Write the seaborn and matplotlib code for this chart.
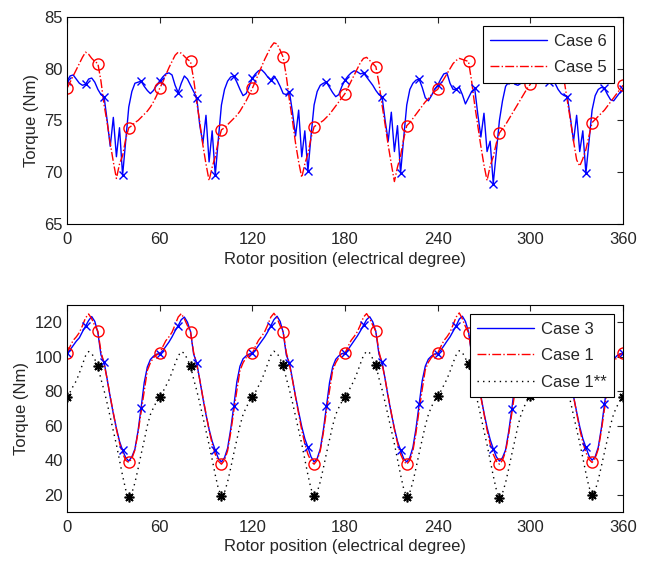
import numpy as np
import matplotlib
matplotlib.use("Agg")
import matplotlib.pyplot as plt
import seaborn as sns

# rotor position grid, 2 degree steps
angle = np.arange(0, 362, 2)

# top plot: Case 6 / Case 5 torque (Nm)
case6 = [
    78.8, 79.3, 79.4, 79.0, 78.6, 78.4, 78.5, 79.0, 79.1, 78.7, 78.0, 77.5, 77.3, 75.0, 72.5,
    75.3, 71.5, 74.3, 69.7, 73.0, 76.3, 77.8, 78.6, 78.7, 78.8, 78.3, 77.9, 77.6, 77.9, 78.4,
    78.8, 79.2, 79.5, 79.6, 79.4, 78.4, 77.7, 78.6, 79.3, 79.0, 78.4, 77.8, 77.2, 74.5, 72.8,
    75.5, 71.0, 74.0, 69.7, 73.2, 76.5, 78.0, 78.8, 79.2, 79.3, 78.7, 78.0, 77.4, 77.6, 78.3,
    79.1, 79.5, 79.8, 79.9, 79.6, 79.2, 78.9, 79.3, 78.9, 78.3, 77.6, 77.5, 77.8, 75.8, 73.5,
    76.0, 71.5, 74.0, 70.1, 73.5, 76.5, 77.8, 78.4, 78.6, 78.7, 78.2, 77.7, 77.3, 77.5, 78.3,
    78.9, 79.3, 79.6, 79.8, 79.7, 79.5, 79.6, 79.2, 78.8, 78.4, 77.9, 77.5, 77.3, 75.0, 73.0,
    75.8, 72.0, 74.5, 69.9, 73.3, 76.5, 78.0, 78.6, 78.9, 79.0, 78.2, 77.2, 76.9, 77.4, 78.0,
    78.4, 79.0, 79.5, 79.6, 78.6, 78.0, 78.0, 78.2, 77.5, 76.6, 77.2, 77.8, 78.1, 75.6, 73.4,
    75.7, 72.0, 73.0, 68.9, 72.0, 75.0, 76.9, 78.3, 78.7, 78.9, 78.5, 78.4, 78.6, 78.9, 79.0,
    79.1, 79.4, 79.6, 79.5, 79.2, 78.8, 78.7, 78.9, 78.6, 78.0, 77.6, 77.4, 77.3, 75.2, 73.0,
    75.5, 72.0, 74.0, 69.9, 73.0, 76.0, 77.4, 78.0, 78.2, 78.1, 77.5, 77.0, 76.9, 77.3, 77.7,
    78.0,
]
case5 = [
    78.1, 78.7, 79.3, 79.9, 80.5, 81.1, 81.6, 81.4, 81.0, 80.7, 80.5, 78.8, 76.5, 74.8, 72.8,
    71.0, 69.4, 70.8, 71.6, 73.2, 74.3, 74.5, 74.8, 75.0, 75.3, 75.6, 75.9, 76.3, 76.8, 77.4,
    78.1, 78.7, 79.4, 80.1, 80.7, 81.3, 81.6, 81.5, 81.2, 80.9, 80.7, 79.0, 76.8, 74.8, 72.6,
    70.8, 69.2, 70.5, 71.5, 73.0, 74.1, 74.3, 74.6, 74.9, 75.2, 75.5, 75.9, 76.4, 76.9, 77.5,
    78.1, 78.8, 79.5, 80.2, 80.9, 81.5, 82.1, 82.5, 82.4, 81.8, 81.1, 79.3, 77.0, 75.0, 72.8,
    71.0, 69.5, 70.8, 71.8, 73.3, 74.4, 74.6, 74.8, 75.0, 75.3, 75.6, 76.0, 76.4, 76.8, 77.2,
    77.6, 78.2, 78.8, 79.4, 80.0, 80.6, 81.0, 81.1, 80.8, 80.5, 80.2, 78.6, 76.5, 74.6, 72.6,
    70.8, 69.1, 70.5, 71.6, 73.2, 74.5, 74.8, 75.2, 75.6, 76.0, 76.4, 76.8, 77.1, 77.5, 77.8,
    78.0, 78.5, 79.0, 79.5, 80.0, 80.5, 80.8, 81.0, 80.9, 80.8, 80.7, 78.8, 76.5, 74.5, 72.5,
    70.7, 69.2, 70.6, 71.5, 72.8, 73.8, 74.2, 74.6, 75.1, 75.6, 76.1, 76.6, 77.1, 77.6, 78.1,
    78.5, 79.1, 79.7, 80.3, 80.9, 81.4, 81.6, 81.4, 81.0, 80.7, 80.5, 78.8, 76.9, 75.0, 73.0,
    71.2, 70.6, 71.3, 72.2, 73.5, 74.8, 75.1, 75.4, 75.7, 76.0, 76.4, 76.8, 77.2, 77.6, 78.0,
    78.4,
]

# bottom plot: Case 3 / Case 1 / Case 1** torque (Nm)
case3 = [
    102.3, 104.0, 106.5, 109.0, 111.0, 114.5, 117.7, 121.0, 123.3, 120.5, 114.0, 101.0, 97.0, 87.0, 76.5,
    67.0, 58.5, 51.0, 45.8, 41.5, 39.5, 42.0, 46.5, 57.0, 70.5, 85.0, 94.0, 98.4, 100.3, 101.5,
    101.8, 103.5, 106.0, 108.5, 111.5, 115.0, 118.0, 121.5, 123.0, 120.0, 114.5, 101.5, 96.5, 86.5, 76.0,
    66.5, 58.0, 51.0, 45.8, 41.0, 39.0, 41.5, 47.0, 58.0, 71.4, 85.5, 94.5, 98.8, 100.5, 101.6,
    102.0, 104.0, 106.5, 109.0, 111.5, 114.5, 118.0, 121.5, 123.5, 120.5, 114.0, 101.0, 96.5, 87.0, 77.0,
    68.0, 59.5, 52.5, 47.5, 42.0, 39.0, 41.0, 46.5, 57.5, 71.4, 85.0, 94.0, 98.5, 100.5, 101.8,
    102.2, 104.2, 106.8, 109.5, 112.0, 115.0, 118.2, 121.5, 123.2, 120.2, 114.5, 101.5, 97.0, 87.0, 76.5,
    67.0, 58.5, 51.0, 45.8, 41.0, 39.0, 41.5, 47.5, 58.5, 72.4, 86.0, 94.5, 98.6, 100.4, 101.6,
    101.8, 103.8, 106.3, 109.0, 111.5, 114.8, 118.0, 121.8, 123.5, 120.5, 114.5, 101.5, 96.8, 87.0, 77.0,
    67.5, 59.0, 52.0, 46.7, 42.0, 39.5, 41.5, 46.0, 56.5, 69.6, 84.0, 93.5, 98.3, 100.2, 101.5,
    101.8, 103.8, 106.5, 109.0, 111.5, 114.8, 118.0, 121.5, 123.2, 120.2, 114.2, 101.2, 96.8, 87.0, 77.0,
    68.0, 59.5, 52.5, 47.5, 42.5, 40.0, 42.0, 47.5, 58.5, 72.4, 86.0, 94.5, 98.5, 100.5, 101.7,
    102.0,
]
case1 = [
    102.3, 106.0, 109.5, 111.5, 114.0, 118.0, 122.5, 124.8, 122.0, 118.0, 114.8, 103.0, 96.0, 87.0, 77.0,
    67.5, 58.0, 50.0, 44.0, 40.0, 38.7, 41.0, 46.0, 56.0, 68.0, 80.0, 92.0, 96.5, 99.5, 101.0,
    102.0, 105.8, 109.3, 111.5, 114.2, 118.5, 123.0, 125.0, 122.0, 118.0, 114.4, 102.5, 95.5, 86.5, 76.5,
    67.0, 57.5, 49.5, 43.5, 39.5, 37.7, 40.0, 45.5, 56.0, 68.5, 80.5, 92.0, 96.5, 99.5, 101.0,
    102.0, 106.0, 109.5, 111.8, 114.5, 118.5, 123.0, 125.2, 122.5, 118.0, 114.4, 102.5, 95.5, 86.5, 76.5,
    67.0, 57.5, 49.5, 43.5, 39.5, 37.7, 40.0, 45.5, 56.0, 68.5, 80.5, 92.0, 96.5, 99.5, 101.0,
    102.0, 106.0, 109.5, 111.8, 114.5, 118.5, 123.0, 125.0, 122.2, 118.2, 114.8, 103.0, 96.0, 87.0, 77.0,
    67.5, 58.0, 50.0, 43.5, 39.5, 37.7, 40.0, 45.5, 56.0, 69.0, 81.0, 92.5, 96.8, 99.6, 101.0,
    102.0, 105.8, 109.3, 111.5, 114.2, 118.5, 123.0, 125.4, 122.0, 117.5, 114.0, 102.5, 95.5, 86.5, 76.5,
    67.0, 57.5, 49.5, 43.5, 39.5, 37.7, 40.0, 45.0, 55.0, 67.0, 79.5, 91.5, 96.2, 99.3, 101.0,
    102.0, 105.8, 109.3, 111.5, 114.2, 118.5, 123.0, 125.0, 122.0, 118.0, 114.5, 102.8, 96.0, 87.0, 77.0,
    67.5, 58.0, 50.5, 44.5, 40.5, 38.7, 41.0, 46.5, 57.0, 69.5, 81.0, 92.5, 96.8, 99.6, 101.0,
    102.3,
]
case1_ss = [
    76.6, 79.5, 83.0, 86.0, 90.5, 95.5, 100.5, 103.0, 102.0, 98.5, 94.6, 87.0, 80.5, 73.0, 65.0,
    57.0, 49.0, 40.0, 31.0, 23.0, 18.5, 21.0, 27.0, 35.0, 43.5, 51.5, 60.0, 66.5, 70.5, 74.0,
    76.6, 79.5, 83.0, 86.5, 91.0, 96.0, 100.5, 103.0, 102.0, 98.5, 94.6, 87.0, 80.5, 73.0, 65.0,
    57.0, 49.0, 40.5, 31.5, 23.5, 19.2, 21.5, 27.5, 35.5, 44.0, 52.0, 60.0, 66.5, 70.5, 74.0,
    76.6, 79.5, 83.0, 86.5, 91.0, 96.0, 100.8, 103.2, 102.2, 98.8, 95.1, 87.5, 81.0, 73.5, 65.5,
    57.5, 49.5, 40.5, 31.5, 23.5, 19.0, 21.5, 27.5, 35.5, 44.0, 52.0, 60.0, 66.5, 70.5, 74.0,
    76.6, 79.5, 83.0, 86.5, 91.0, 96.0, 100.8, 103.2, 102.2, 98.8, 95.1, 87.5, 81.0, 73.5, 65.5,
    57.5, 49.5, 40.5, 31.5, 23.5, 18.8, 21.5, 27.5, 35.5, 44.0, 52.0, 60.0, 66.5, 71.0, 74.5,
    77.0, 80.0, 83.5, 87.0, 91.5, 96.5, 101.0, 103.5, 102.5, 99.0, 95.9, 88.0, 81.0, 73.5, 65.5,
    57.0, 49.0, 40.0, 31.0, 23.0, 18.3, 21.0, 27.0, 35.0, 43.5, 51.5, 60.0, 66.5, 71.0, 74.5,
    77.2, 80.0, 83.5, 87.0, 91.5, 96.5, 101.0, 103.5, 102.5, 99.0, 95.5, 88.0, 81.5, 74.0, 66.0,
    58.0, 50.0, 41.5, 32.5, 24.5, 20.0, 22.5, 28.5, 36.5, 44.5, 52.5, 60.5, 67.0, 71.0, 74.5,
    76.8,
]

xticks = [0, 60, 120, 180, 240, 300, 360]

sns.set_style("white", {"xtick.direction": "in", "ytick.direction": "in"})
plt.rcParams["font.family"] = ["Liberation Sans", "DejaVu Sans"]
plt.rcParams["axes.linewidth"] = 0.8

fig = plt.figure(figsize=(6.53, 5.62), dpi=100)
ax1 = fig.add_axes([0.1026, 0.6014, 0.8514, 0.3684])
ax2 = fig.add_axes([0.1026, 0.0890, 0.8514, 0.3683])

case6 = np.array(case6)
case5 = np.array(case5)
case3 = np.array(case3)
case1 = np.array(case1)
case1_ss = np.array(case1_ss)

# --- top: Case 6 vs Case 5
sns.lineplot(x=angle, y=case6, ax=ax1, color="blue", lw=1, label="Case 6",
             sort=False, estimator=None)
sns.lineplot(x=angle, y=case5, ax=ax1, color="red", lw=1, linestyle="-.", label="Case 5",
             sort=False, estimator=None)
ax1.plot(angle[::6], case6[::6], "x", color="blue", ms=6, mew=1)
ax1.plot(angle[::10], case5[::10], "o", mfc="none", mec="red", ms=8, mew=1)
ax1.set_ylim(65, 85)
ax1.set_yticks([65, 70, 75, 80, 85])

# --- bottom: Case 3 / Case 1 / Case 1**
sns.lineplot(x=angle, y=case3, ax=ax2, color="blue", lw=1, label="Case 3",
             sort=False, estimator=None)
sns.lineplot(x=angle, y=case1, ax=ax2, color="red", lw=1, linestyle="-.", label="Case 1",
             sort=False, estimator=None)
sns.lineplot(x=angle, y=case1_ss, ax=ax2, color="black", lw=1, linestyle=(0, (1, 3)),
             label="Case 1**", sort=False, estimator=None)
ax2.plot(angle[::6], case3[::6], "x", color="blue", ms=6, mew=1)
ax2.plot(angle[::10], case1[::10], "o", mfc="none", mec="red", ms=8, mew=1)
ax2.plot(angle[::10], case1_ss[::10], marker=(8, 2, 0), ls="none", color="black", ms=7, mew=1.2)
ax2.set_ylim(10, 130)
ax2.set_yticks([20, 40, 60, 80, 100, 120])

for ax in (ax1, ax2):
    ax.set_xlim(0, 360)
    ax.set_xticks(xticks)
    ax.set_xlabel("Rotor position (electrical degree)", fontsize=12, labelpad=3)
    ax.set_ylabel("Torque (Nm)", fontsize=12, labelpad=4)
    ax.tick_params(axis="both", labelsize=12, length=4, width=0.8, direction="in",
                   top=True, right=True)
    ax.tick_params(axis="x", pad=6)
    ax.tick_params(axis="y", pad=3)
    for s in ax.spines.values():
        s.set_color("black")
        s.set_visible(True)
    leg = ax.legend(loc="upper right", fontsize=12, handlelength=3.4, fancybox=False,
                    framealpha=1, edgecolor="black", borderaxespad=0.55, labelspacing=0.7,
                    borderpad=0.45, handletextpad=0.4)
    leg.get_frame().set_linewidth(0.8)

fig.savefig("out.png", dpi=100)
